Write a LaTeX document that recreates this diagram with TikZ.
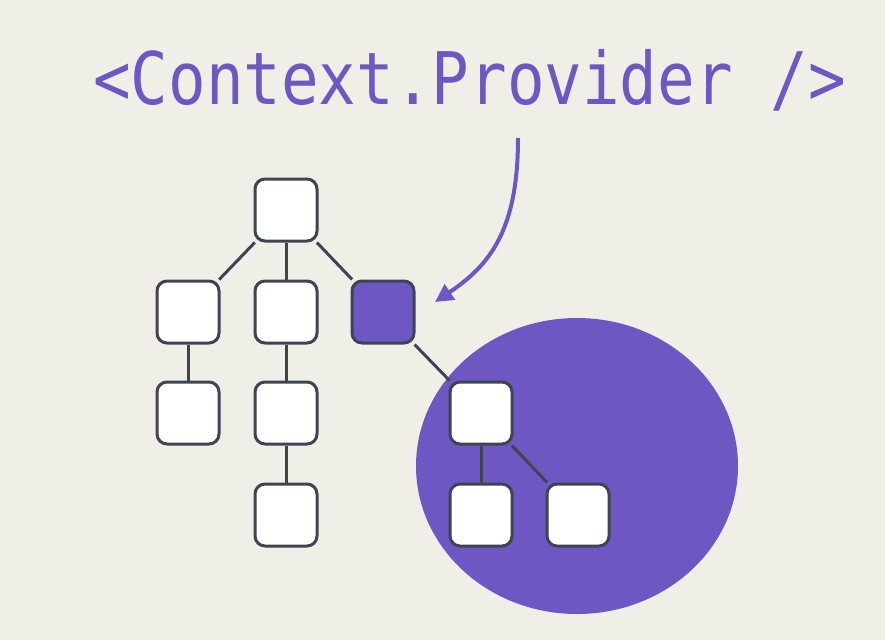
\documentclass[tikz,border=0pt]{standalone}
\usepackage{fontspec}
\setmonofont{DejaVu Sans Mono}
\usetikzlibrary{arrows.meta}
\definecolor{paper}{HTML}{EFEFE8}
\definecolor{violet}{HTML}{6E57C2}
\definecolor{slate}{HTML}{3E4452}
\tikzset{
  leaf/.style={draw=slate,line width=3pt,fill=white,rounded corners=10pt,minimum size=62pt,inner sep=0pt},
  link/.style={draw=slate,line width=3pt}
}
\begin{document}
\begin{tikzpicture}[x=1pt,y=-1pt]
  \fill[paper] (0,0) rectangle (885,640);
  \useasboundingbox (0,0) rectangle (885,640);
  \fill[violet] (577,466) ellipse [x radius=161pt, y radius=148pt];
  % title
  \node[text=violet,font=\ttfamily\fontsize{62.5}{62.5}\selectfont,anchor=base west,inner sep=0pt] (title) at (93,104) {\scalebox{1}[1.16]{<Context.Provider />}};
  % tree
  \node[leaf] (root) at (286,210) {};
  \node[leaf] (a) at (188,312) {};
  \node[leaf] (b) at (286,312) {};
  \node[leaf,fill=violet] (prov) at (383,312) {};
  \node[leaf] (a1) at (188,413) {};
  \node[leaf] (b1) at (286,413) {};
  \node[leaf] (c) at (481,413) {};
  \node[leaf] (b2) at (286,515) {};
  \node[leaf] (c1) at (481,515) {};
  \node[leaf] (c2) at (578,515) {};
  \draw[link] (root) -- (a);
  \draw[link] (root) -- (b);
  \draw[link] (root) -- (prov);
  \draw[link] (a) -- (a1);
  \draw[link] (b) -- (b1);
  \draw[link] (b1) -- (b2);
  \draw[link] (prov) -- (c);
  \draw[link] (c) -- (c1);
  \draw[link] (c) -- (c2);
  % arrow
  \coordinate (tail) at (518,138);
  \coordinate (tip) at (435,302);
  \draw[violet,line width=4pt,-{Triangle[length=18pt,width=18pt]}] (tail) .. controls (518,230) and (490,265) .. (tip);
\end{tikzpicture}
\end{document}
